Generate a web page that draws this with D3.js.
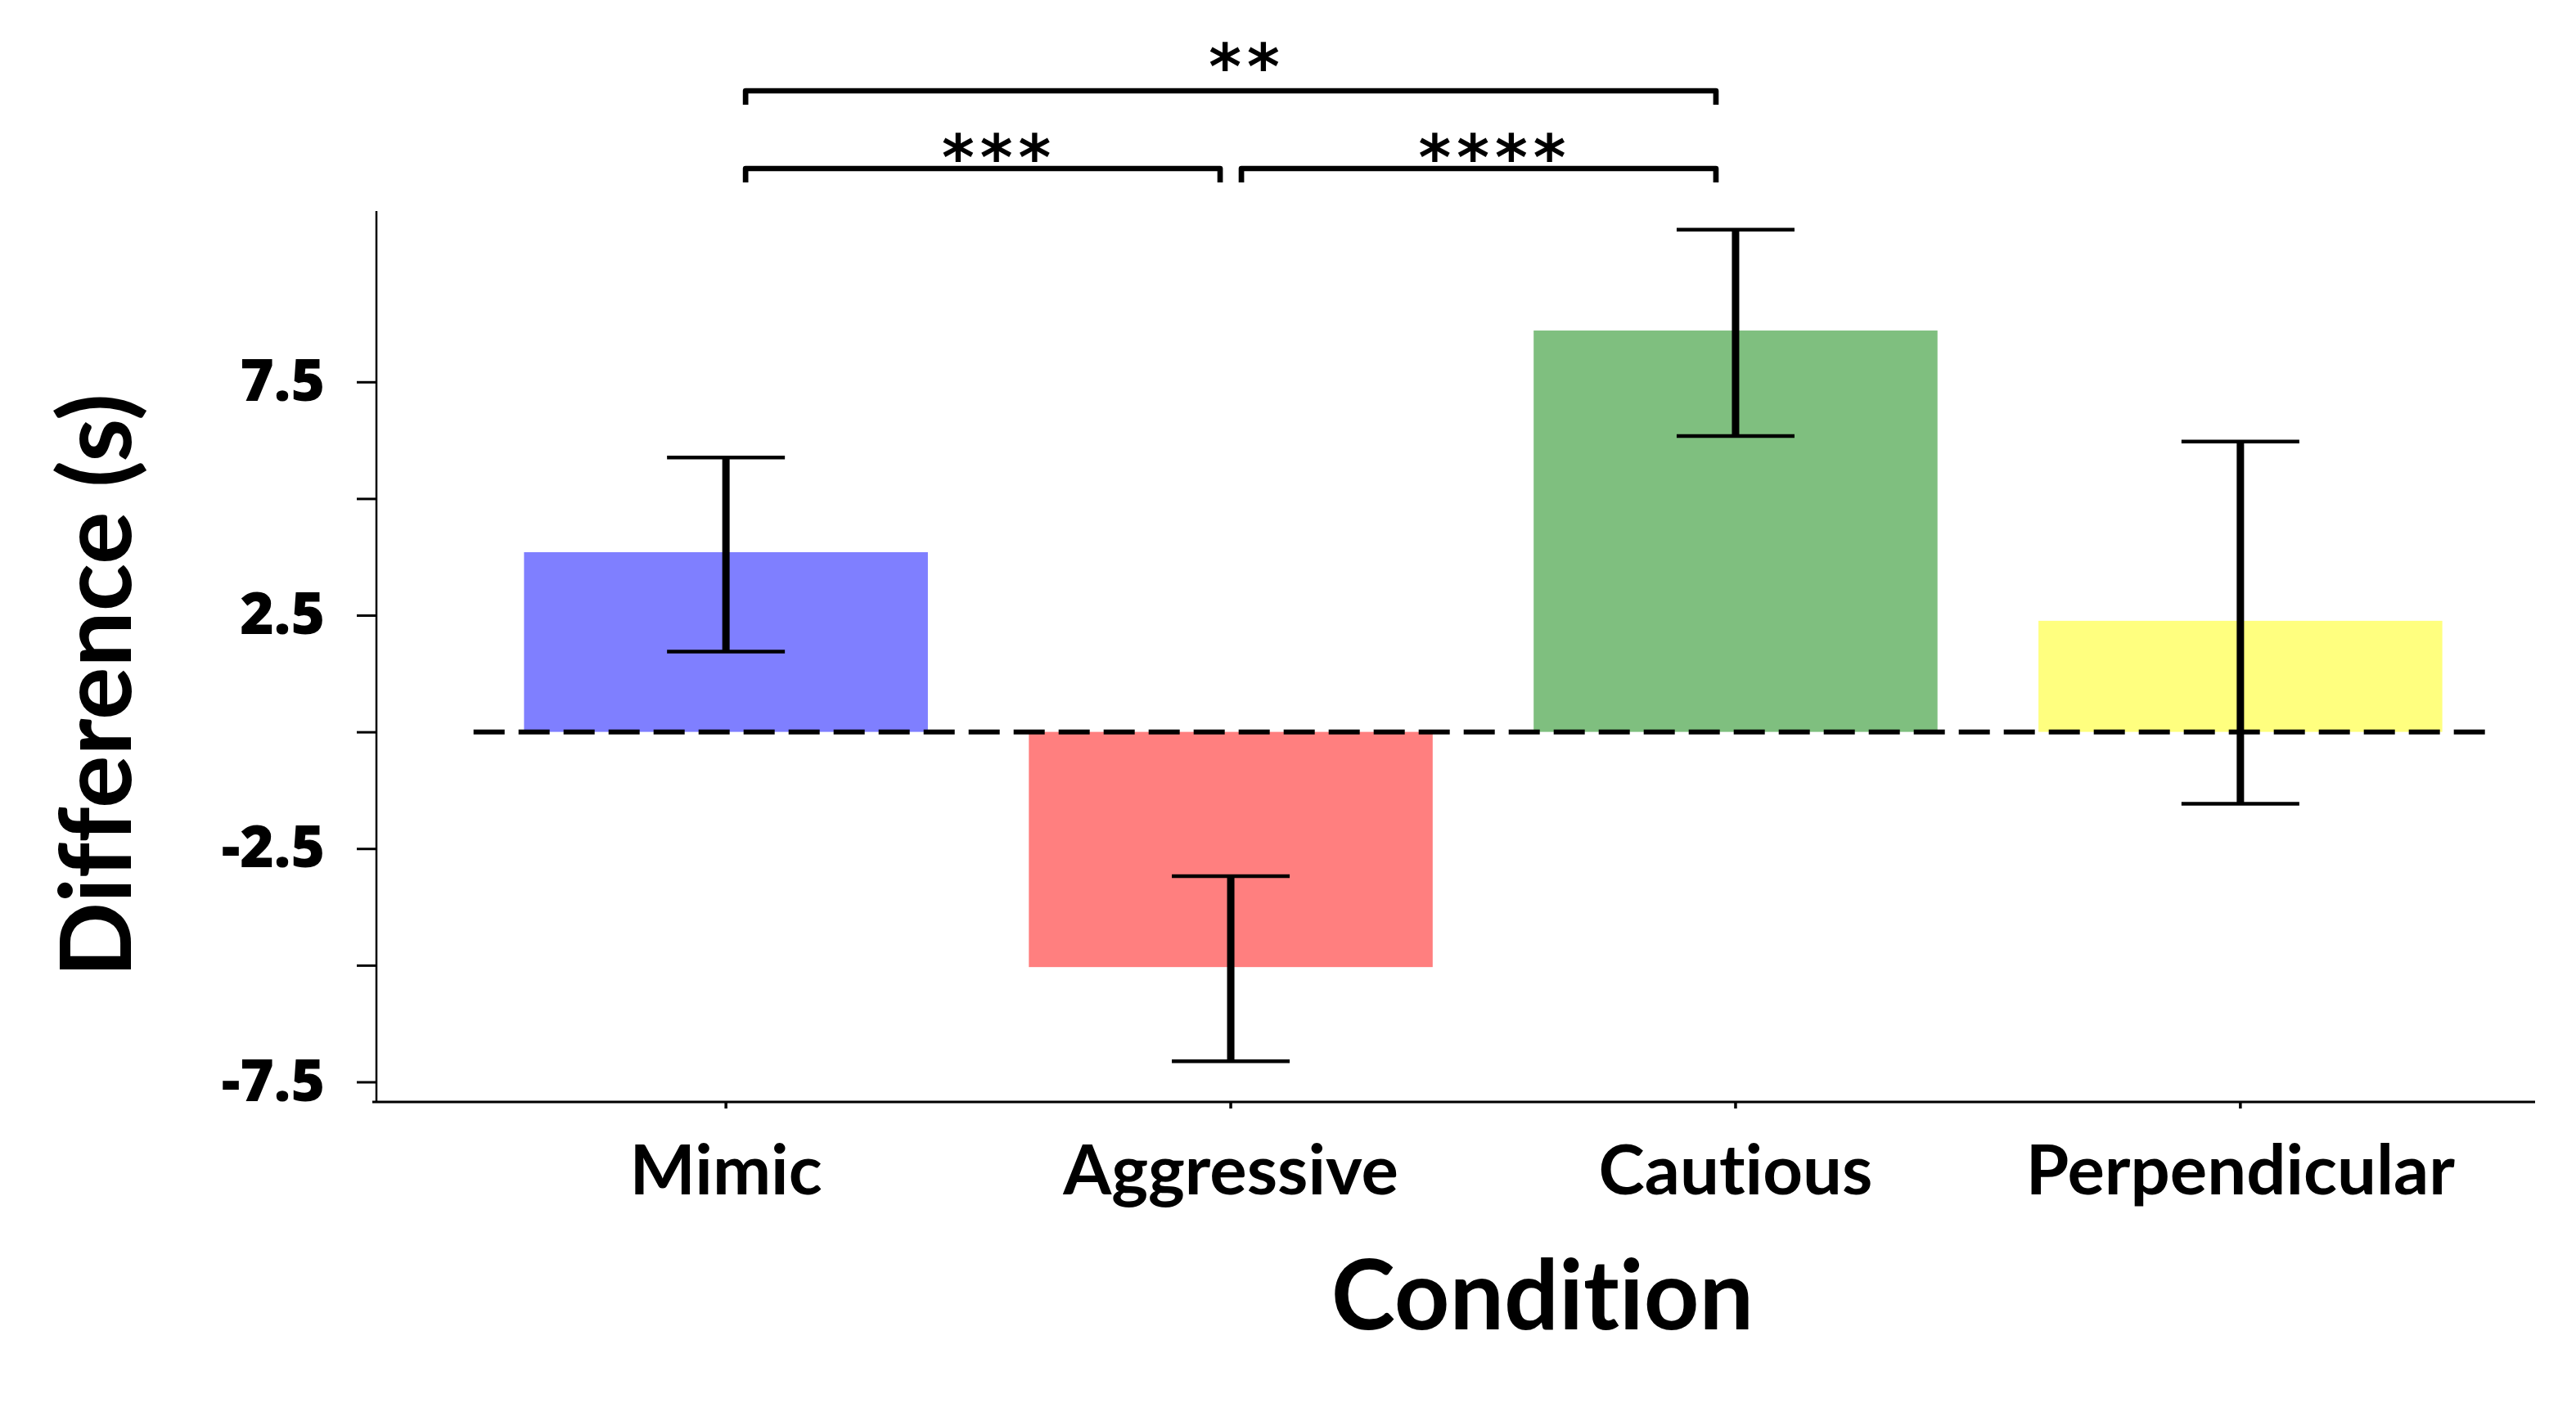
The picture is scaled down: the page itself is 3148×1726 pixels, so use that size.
<!DOCTYPE html>
<html>
<head>
<meta charset="utf-8">
<script src="https://cdn.jsdelivr.net/npm/d3@7"></script>
<style>
    body { margin: 0; background: #fff; }
    svg { display: block; }
    text { font-variant-ligatures: none; font-feature-settings: "liga" 0, "clig" 0; }
</style>
</head>
<body>
<svg id="chart" width="3148" height="1726"></svg>
<script>
// values (seconds)
var conditions = ['Mimic', 'Aggressive', 'Cautious', 'Perpendicular'];
var meanDiff = [3.85, -5.04, 8.6, 2.38];
var ciLow = [1.72, -7.06, 6.34, -1.54];
var ciHigh = [5.88, -3.09, 10.76, 6.22];
var barColors = ['blue', 'red', 'green', 'yellow'];

var yTicks = [-7.5, -5, -2.5, 0, 2.5, 5, 7.5];
var yTickLabels = ['-7.5', '', '-2.5', '', '2.5', '', '7.5'];

// significance brackets
var bracketFrom = ['Mimic', 'Aggressive', 'Mimic'];
var bracketTo = ['Aggressive', 'Cautious', 'Cautious'];
var bracketLabels = ['***', '****', '**'];
var bracketLevel = [0, 0, 1];

var svg = d3.select('#chart');

var x = d3.scaleBand().domain(conditions).range([517, 3108]).paddingInner(0.2).paddingOuter(0.2);
var y = d3.scaleLinear().domain([-7.93, 11.16]).range([1347, 258]);

var data = conditions.map(function (c, i) {
    return {name: c, mean: meanDiff[i], lo: ciLow[i], hi: ciHigh[i], color: barColors[i]};
});

// bars
svg.append('g').selectAll('rect').data(data).enter().append('rect')
    .attr('x', function (d) { return x(d.name); })
    .attr('width', x.bandwidth())
    .attr('y', function (d) { return y(Math.max(0, d.mean)); })
    .attr('height', function (d) { return Math.abs(y(d.mean) - y(0)); })
    .style('fill', function (d) { return d.color; })
    .style('fill-opacity', 0.5);

// dashed zero line
var gap = x.step() * x.paddingInner() / 2;
svg.append('line')
    .attr('x1', x(conditions[0]) - gap)
    .attr('x2', x(conditions[conditions.length - 1]) + x.bandwidth() + gap * 0.85)
    .attr('y1', y(0)).attr('y2', y(0))
    .style('stroke', '#000')
    .style('stroke-width', 6)
    .style('stroke-dasharray', '38,17');

// error bars
var capHalf = 72;
var errs = svg.append('g').selectAll('g').data(data).enter().append('g')
    .attr('transform', function (d) { return 'translate(' + (x(d.name) + x.bandwidth() / 2) + ',0)'; });
errs.append('line')
    .attr('x1', 0).attr('x2', 0)
    .attr('y1', function (d) { return y(d.lo); })
    .attr('y2', function (d) { return y(d.hi); })
    .style('stroke', '#000').style('stroke-width', 9);
errs.selectAll('.cap').data(function (d) { return [d.lo, d.hi]; }).enter().append('line')
    .attr('class', 'cap')
    .attr('x1', -capHalf).attr('x2', capHalf)
    .attr('y1', function (v) { return y(v); })
    .attr('y2', function (v) { return y(v); })
    .style('stroke', '#000').style('stroke-width', 4.5);

// axes
var yAxis = svg.append('g')
    .attr('transform', 'translate(460,0)')
    .call(d3.axisLeft(y).tickValues(yTicks)
        .tickFormat(function (d, i) { return yTickLabels[i]; })
        .tickSize(24).tickPadding(39));
yAxis.select('.domain').remove();
yAxis.selectAll('.tick line').style('stroke', '#000').style('stroke-width', 3);
yAxis.selectAll('.tick text')
    .style('font-family', '"Open Sans", sans-serif')
    .style('font-weight', 800)
    .style('font-size', '71px')
    .style('fill', '#000');

svg.append('line')
    .attr('x1', 460).attr('x2', 460)
    .attr('y1', y.range()[1]).attr('y2', y.range()[0])
    .style('stroke', '#000').style('stroke-width', 2.5);

var xAxis = svg.append('g')
    .attr('transform', 'translate(0,' + y.range()[0] + ')')
    .call(d3.axisBottom(x).tickSize(8).tickSizeOuter(0));
xAxis.select('.domain').remove();
xAxis.selectAll('.tick line').style('stroke', '#000').style('stroke-width', 3.5);
xAxis.selectAll('.tick text')
    .attr('y', 113).attr('dy', 0)
    .style('font-family', 'Lato, sans-serif')
    .style('font-weight', 700)
    .style('font-size', '85px')
    .style('fill', '#000');

svg.append('line')
    .attr('x1', 455).attr('x2', 3098)
    .attr('y1', y.range()[0]).attr('y2', y.range()[0])
    .style('stroke', '#000').style('stroke-width', 3);

// axis titles
svg.append('text')
    .attr('x', 1885).attr('y', 1625)
    .attr('text-anchor', 'middle')
    .style('font-family', 'Lato, sans-serif')
    .style('font-weight', 700)
    .style('font-size', '118px')
    .text('Condition');

svg.append('text')
    .attr('transform', 'translate(160,838) rotate(-90)')
    .attr('text-anchor', 'middle')
    .style('font-family', 'Lato, sans-serif')
    .style('font-weight', 700)
    .style('font-size', '121px')
    .text('Difference (s)');

// significance brackets
function center(name) { return x(name) + x.bandwidth() / 2; }
function shared(name, level) {
    var n = 0;
    bracketFrom.forEach(function (f, i) {
        if (bracketLevel[i] === level && (f === name || bracketTo[i] === name)) n++;
    });
    return n > 1;
}
var brackets = bracketLabels.map(function (lab, i) {
    var lvl = bracketLevel[i];
    var x1 = center(bracketFrom[i]) + (shared(bracketFrom[i], lvl) ? 13 : 24);
    var x2 = center(bracketTo[i]) - (shared(bracketTo[i], lvl) ? 13 : 24);
    var yLine = y.range()[1] - 52 - lvl * 95;
    return {x1: x1, x2: x2, y: yLine, label: lab, level: lvl};
});

var br = svg.append('g').selectAll('g').data(brackets).enter().append('g');
br.append('path')
    .attr('d', function (d) {
        return 'M' + d.x1 + ',' + (d.y + 17) + 'L' + d.x1 + ',' + d.y +
            'L' + d.x2 + ',' + d.y + 'L' + d.x2 + ',' + (d.y + 17);
    })
    .style('fill', 'none')
    .style('stroke', '#000')
    .style('stroke-width', 6.7)
    .style('stroke-linejoin', 'round');
br.append('text')
    .attr('x', function (d) { return (d.x1 + d.x2) / 2 + 20; })
    .attr('y', function (d) { return d.y - (d.level ? 44 : 28) + 41; })
    .attr('text-anchor', 'middle')
    .style('font-family', '"DejaVu Sans", sans-serif')
    .style('font-weight', 700)
    .style('font-size', '76px')
    .style('letter-spacing', '7px')
    .text(function (d) { return d.label; });
</script>
</body>
</html>
